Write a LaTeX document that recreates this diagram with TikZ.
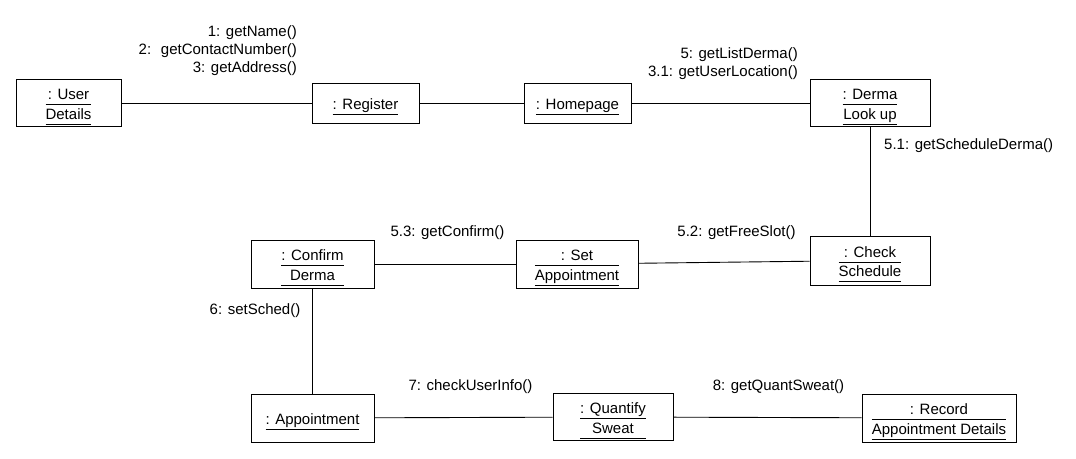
\documentclass[tikz,border=0pt]{standalone}
\usepackage{fontspec}
\setmainfont{Liberation Sans}
\usetikzlibrary{positioning}

\newlength\lwa
\newlength\lwb
% one underlined line
\newcommand{\objone}[1]{\rule{0pt}{18pt}\underline{\vphantom{p}#1}}
% two underlined lines, both as wide as the longer one
\newcommand{\objtwo}[2]{%
  \settowidth{\lwa}{#1}\settowidth{\lwb}{#2}%
  \ifdim\lwb>\lwa \setlength{\lwa}{\lwb}\fi
  \global\lwa=\lwa
  \rule{0pt}{18pt}\underline{\makebox[\lwa]{\vphantom{p}#1}}\\\underline{\makebox[\lwa]{\vphantom{p}#2}}}

\begin{document}
\begin{tikzpicture}
    [x=1pt, y=-1pt,
     obj/.style={rectangle, draw, line width=0.9pt, align=center, inner sep=2pt,
                 font=\fontsize{15}{19.5}\selectfont},
     msg/.style={inner sep=0pt, font=\fontsize{15}{18}\selectfont},
     link/.style={line width=0.9pt}]

    \useasboundingbox (0,0) rectangle (1076,458);

    \node [obj, minimum width=105pt, minimum height=46pt] (ud) at (68.5,103) {\objtwo{: User}{Details}};
    \node [obj, minimum width=107pt, minimum height=40pt] (reg) at (365.5,103) {\objone{: Register}};
    \node [obj, minimum width=107pt, minimum height=40pt] (home) at (577.5,103) {\objone{: Homepage}};
    \node [obj, minimum width=120pt, minimum height=46pt] (derma) at (870,103) {\objtwo{: Derma}{Look up}};
    \node [obj, minimum width=120pt, minimum height=49pt] (check) at (870,260.5) {\objtwo{: Check}{Schedule}};
    \node [obj, minimum width=122pt, minimum height=48pt] (setapp) at (577,264) {\objtwo{: Set}{Appointment}};
    \node [obj, minimum width=123pt, minimum height=48pt] (confirm) at (312.5,264) {\objtwo{: Confirm}{Derma}};
    \node [obj, minimum width=123pt, minimum height=48pt] (appt) at (312.5,418) {\objone{: Appointment}};
    \node [obj, minimum width=120pt, minimum height=46pt] (quant) at (613,417) {\objtwo{: Quantify}{Sweat}};
    \node [obj, minimum width=154pt, minimum height=48pt] (record) at (939,418) {\objtwo{: Record}{Appointment Details}};

    \draw [link] (ud) -- (reg);
    \draw [link] (reg) -- (home);
    \draw [link] (home) -- (derma);
    \draw [link] (derma) -- (check);
    \draw [link] (check) -- (setapp);
    \draw [link] (setapp) -- (confirm);
    \draw [link] (confirm) -- (appt);
    \draw [link] (appt) -- (quant);
    \draw [link] (quant) -- (record);

    % messages
    \node [msg, anchor=east, align=right] (m1) at (297,51) {1: getName()\\2: \ getContactNumber()\\3: getAddress()};
    \node [msg, anchor=east, align=right] (m5) at (798,63.5) {5: getListDerma()\\3.1: getUserLocation()};
    \node [msg, anchor=west] (m51) at (884,146) {5.1: getScheduleDerma()};
    \node [msg] (m52) at (736.5,233) {5.2: getFreeSlot()};
    \node [msg] (m53) at (447.5,233) {5.3: getConfirm()};
    \node [msg] (m6) at (255,311) {6: setSched()};
    \node [msg] (m7) at (470.5,387) {7: checkUserInfo()};
    \node [msg] (m8) at (778.5,387) {8: getQuantSweat()};
\end{tikzpicture}
\end{document}
